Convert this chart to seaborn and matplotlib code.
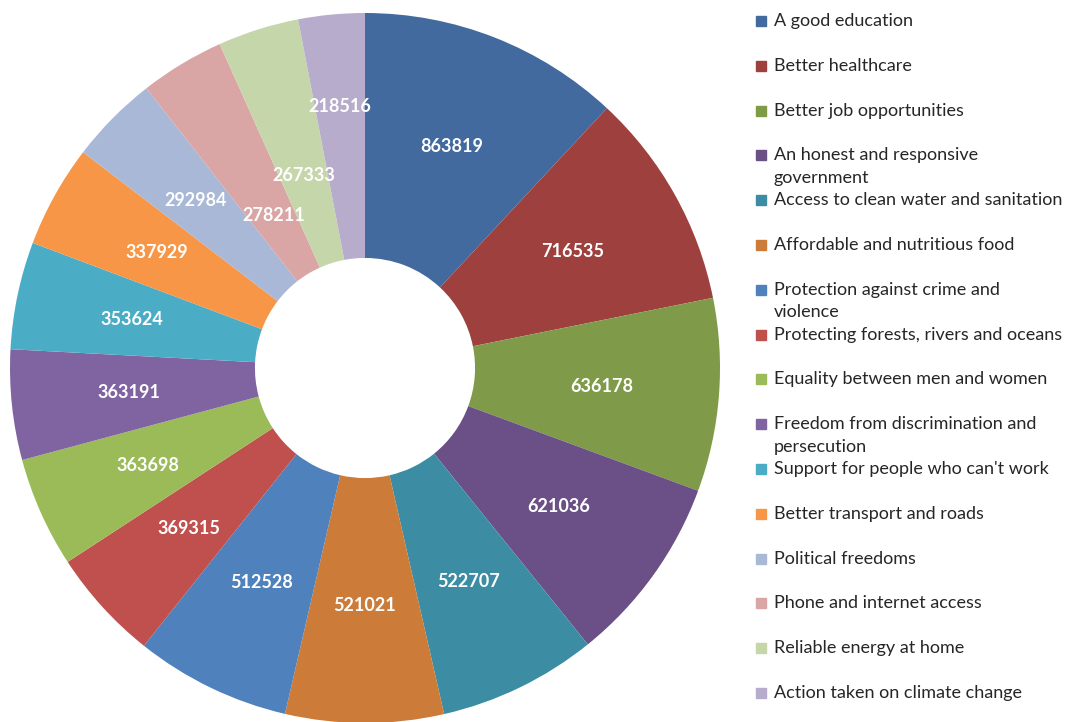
import matplotlib
matplotlib.use("Agg")
import matplotlib.pyplot as plt
import numpy as np
import seaborn as sns
from matplotlib.patches import Rectangle

sns.set_theme(style="white")
plt.rcParams["font.family"] = ["Lato", "DejaVu Sans"]

# data
categories = [
    "A good education",
    "Better healthcare",
    "Better job opportunities",
    "An honest and responsive\ngovernment",
    "Access to clean water and sanitation",
    "Affordable and nutritious food",
    "Protection against crime and\nviolence",
    "Protecting forests, rivers and oceans",
    "Equality between men and women",
    "Freedom from discrimination and\npersecution",
    "Support for people who can't work",
    "Better transport and roads",
    "Political freedoms",
    "Phone and internet access",
    "Reliable energy at home",
    "Action taken on climate change",
]
votes = [863819, 716535, 636178, 621036, 522707, 521021, 512528, 369315,
         363698, 363191, 353624, 337929, 292984, 278211, 267333, 218516]
colors = ["#426A9E", "#9E413E", "#7F9A48", "#6A5087", "#3C8DA3", "#CC7B38",
          "#4F81BD", "#C0504D", "#9BBB59", "#8064A2", "#4BACC6", "#F79646",
          "#A9B8D6", "#D9A6A5", "#C6D6AB", "#B7ACCC"]

# radial spot of each value label (the small slices at the top are staggered)
label_dist = [0.67] * 13 + [0.50, 0.57, 0.74]

fig = plt.figure(figsize=(10.67, 7.22), dpi=100)
W, H = 1067, 722
cx, cy, r = 365, 368, 355
ax = fig.add_axes([(cx - r) / W, (H - cy - r) / H, 2 * r / W, 2 * r / H])

wedges, texts, autotexts = ax.pie(
    votes, colors=colors, startangle=90, counterclock=False, radius=1,
    wedgeprops=dict(width=0.69, edgecolor="none"),
    autopct=lambda p: "{:.0f}".format(p * sum(votes) / 100),
    pctdistance=0.67,
    textprops=dict(color="white", fontsize=13, fontweight="bold"),
)
for w, t, d in zip(wedges, autotexts, label_dist):
    ang = np.deg2rad((w.theta1 + w.theta2) / 2)
    t.set_position((d * np.cos(ang), d * np.sin(ang)))

ax.set_xlim(-1, 1)
ax.set_ylim(-1, 1)
ax.set_aspect("equal")
ax.axis("off")

# legend on the right, drawn by hand so wrapped labels keep the even spacing
y0, step = 21, 44.8
for i, (lab, col) in enumerate(zip(categories, colors)):
    y = y0 + i * step
    fig.patches.append(Rectangle(((761 - 5) / W, 1 - (y + 5) / H), 10 / W, 10 / H,
                                 transform=fig.transFigure, color=col))
    fig.text(774 / W, 1 - (y - 8) / H, lab, fontsize=13, color="#262626",
             va="top", ha="left", linespacing=1.5)

fig.savefig("out.png", dpi=100)
